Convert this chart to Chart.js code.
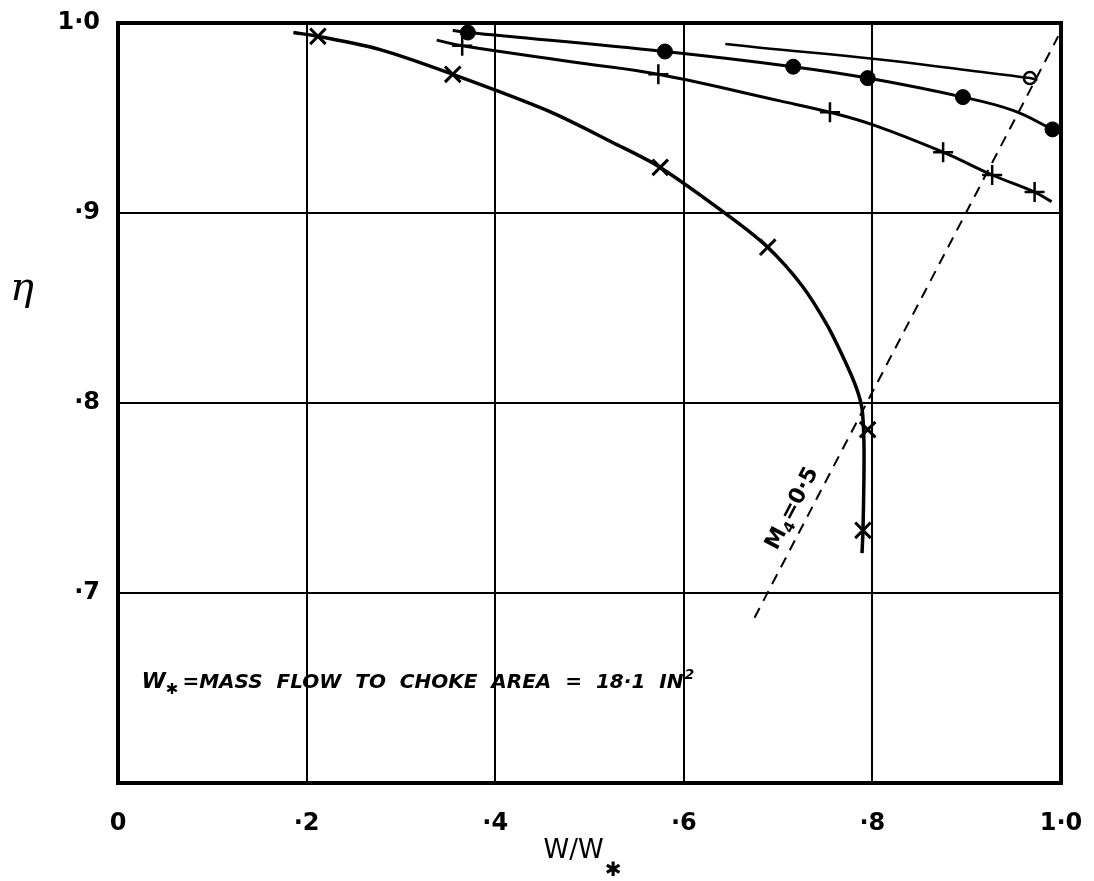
<!DOCTYPE html>
<html>
<head>
<meta charset="utf-8">
<script src="https://cdn.jsdelivr.net/npm/chart.js@4.4.1/dist/chart.umd.min.js"></script>
<style>
  html, body { margin: 0; padding: 0; background: #fff; }
  #wrap { width: 1094px; height: 881px; }
</style>
</head>
<body>
<div id="wrap"><canvas id="etaChart" width="1094" height="881"></canvas></div>
<script>
// Ticks
const xTickLabels = ['0', '·2', '·4', '·6', '·8', '1·0'];
const yTickLabels = ['', '·7', '·8', '·9', '1·0'];

// Curve 1 (x markers)
const c1LineX = [0.186, 0.212, 0.278, 0.355, 0.455, 0.525, 0.575, 0.649, 0.689, 0.725, 0.752, 0.771, 0.783, 0.789, 0.791, 0.791, 0.790, 0.789];
const c1LineY = [0.995, 0.993, 0.986, 0.973, 0.954, 0.937, 0.924, 0.898, 0.882, 0.862, 0.841, 0.822, 0.808, 0.797, 0.780, 0.760, 0.733, 0.721];
const c1MarkX = [0.212, 0.355, 0.575, 0.689, 0.795, 0.790];
const c1MarkY = [0.993, 0.973, 0.924, 0.882, 0.786, 0.733];

// Curve 2 (+ markers)
const c2LineX = [0.338, 0.365, 0.490, 0.573, 0.702, 0.755, 0.803, 0.875, 0.927, 0.972, 0.990];
const c2LineY = [0.991, 0.988, 0.979, 0.973, 0.959, 0.953, 0.946, 0.932, 0.920, 0.911, 0.906];
const c2MarkX = [0.365, 0.573, 0.755, 0.875, 0.927, 0.972];
const c2MarkY = [0.988, 0.973, 0.953, 0.932, 0.920, 0.911];

// Curve 3 (filled circles)
const c3LineX = [0.355, 0.371, 0.580, 0.716, 0.795, 0.896, 0.949, 0.991];
const c3LineY = [0.996, 0.995, 0.985, 0.977, 0.971, 0.961, 0.954, 0.944];
const c3MarkX = [0.371, 0.580, 0.716, 0.795, 0.896, 0.991];
const c3MarkY = [0.995, 0.985, 0.977, 0.971, 0.961, 0.944];

// Curve 4 (open circle)
const c4LineX = [0.644, 0.681, 0.803, 0.903, 0.967, 0.975];
const c4LineY = [0.989, 0.987, 0.981, 0.975, 0.971, 0.970];
const c4MarkX = [0.967];
const c4MarkY = [0.971];

// M4 = 0.5 line
const machX = [0.675, 0.997];
const machY = [0.687, 0.993];

function pts(xs, ys) {
    return xs.map((x, i) => ({ x: x, y: ys[i] }));
}

const FONT = "'DejaVu Sans', sans-serif";

function lineSet(xs, ys, width, tension) {
    return {
        data: pts(xs, ys),
        showLine: true,
        borderColor: '#000',
        borderWidth: width,
        pointRadius: 0,
        tension: tension,
        fill: false
    };
}

function markSet(xs, ys, style, radius, width, bg) {
    return {
        data: pts(xs, ys),
        showLine: false,
        pointStyle: style,
        pointRadius: radius,
        pointBorderWidth: width,
        pointBorderColor: '#000',
        pointBackgroundColor: bg
    };
}

// Marco y textos
const framePlugin = {
    id: 'frame',
    beforeDatasetsDraw(chart) {
        const a = chart.chartArea;
        const ctx = chart.ctx;
        ctx.save();
        ctx.strokeStyle = '#000';
        ctx.lineWidth = 4;
        ctx.strokeRect(a.left, a.top, a.right - a.left, a.bottom - a.top);
        ctx.restore();
    },
    afterDraw(chart) {
        const ctx = chart.ctx;
        const xs = chart.scales.x;
        const ys = chart.scales.y;
        ctx.save();
        ctx.fillStyle = '#000';
        ctx.textBaseline = 'alphabetic';

        // eta
        ctx.font = "italic 40px 'DejaVu Serif', serif";
        ctx.textAlign = 'center';
        ctx.fillText('η', 22, 300);

        // W/W*
        ctx.font = '26px ' + FONT;
        ctx.textAlign = 'left';
        const tx = (chart.chartArea.left + chart.chartArea.right) / 2 - 46;
        ctx.fillText('W/W', tx, 858);
        const ww = ctx.measureText('W/W').width;
        ctx.font = 'bold 20px ' + FONT;
        ctx.fillText('✱', tx + ww + 1, 876);

        // Note
        let nx = xs.getPixelForValue(0.025);
        const ny = ys.getPixelForValue(0.650);
        ctx.font = 'italic bold 22px ' + FONT;
        ctx.fillText('W', nx, ny);
        nx += ctx.measureText('W').width;
        ctx.font = 'bold 15px ' + FONT;
        ctx.fillText('✱', nx, ny + 6);
        nx += ctx.measureText('✱').width + 4;
        ctx.font = 'italic bold 20px ' + FONT;
        const note = '=MASS  FLOW  TO  CHOKE  AREA  =  18·1  IN';
        ctx.fillText(note, nx, ny);
        nx += ctx.measureText(note).width + 1;
        ctx.font = 'italic bold 14px ' + FONT;
        ctx.fillText('2', nx, ny - 9);

        // M4 = 0.5 along the dashed line
        const p1x = xs.getPixelForValue(machX[0]);
        const p1y = ys.getPixelForValue(machY[0]);
        const p2x = xs.getPixelForValue(machX[1]);
        const p2y = ys.getPixelForValue(machY[1]);
        const ang = Math.atan2(p2y - p1y, p2x - p1x);
        ctx.translate(xs.getPixelForValue(0.713), ys.getPixelForValue(0.745));
        ctx.rotate(ang);
        ctx.font = 'bold 22px ' + FONT;
        const partM = 'M';
        const partEq = '=0·5';
        const wM = ctx.measureText(partM).width;
        ctx.font = 'bold 15px ' + FONT;
        const w4 = ctx.measureText('4').width;
        ctx.font = 'bold 22px ' + FONT;
        const wEq = ctx.measureText(partEq).width;
        let sx = -(wM + w4 + wEq) / 2;
        ctx.fillText(partM, sx, 8);
        sx += wM;
        ctx.font = 'bold 15px ' + FONT;
        ctx.fillText('4', sx, 13);
        sx += w4;
        ctx.font = 'bold 22px ' + FONT;
        ctx.fillText(partEq, sx, 8);
        ctx.restore();
    }
};

new Chart(document.getElementById('etaChart'), {
    type: 'scatter',
    data: {
        datasets: [
            lineSet(c1LineX, c1LineY, 3.5, 0.3),
            lineSet(c2LineX, c2LineY, 3, 0.4),
            lineSet(c3LineX, c3LineY, 3, 0.4),
            lineSet(c4LineX, c4LineY, 2.5, 0.4),
            {
                data: pts(machX, machY),
                showLine: true,
                borderColor: '#000',
                borderWidth: 2,
                borderDash: [11, 8],
                pointRadius: 0,
                tension: 0
            },
            markSet(c1MarkX, c1MarkY, 'crossRot', 11, 3, '#000'),
            markSet(c2MarkX, c2MarkY, 'cross', 10, 2.5, '#000'),
            markSet(c3MarkX, c3MarkY, 'circle', 7.5, 1, '#000'),
            markSet(c4MarkX, c4MarkY, 'circle', 6, 2.5, '#fff')
        ]
    },
    options: {
        responsive: false,
        animation: false,
        layout: { padding: { left: 0, top: 23, right: 33, bottom: 0 } },
        plugins: {
            legend: { display: false },
            tooltip: { enabled: false }
        },
        scales: {
            x: {
                type: 'linear',
                min: 0,
                max: 1,
                afterFit: s => {
                    s.height = 98;
                    s.paddingLeft = 0;
                    s.paddingRight = 0;
                },
                afterBuildTicks: s => {
                    s.ticks = xTickLabels.map((t, i) => ({ value: i * 0.2 }));
                },
                ticks: {
                    callback: (v, i) => xTickLabels[i],
                    color: '#000',
                    padding: 26,
                    maxRotation: 0,
                    font: { family: FONT, size: 24, weight: 'bold' }
                },
                grid: { color: '#000', lineWidth: 2, drawTicks: false },
                border: { display: false }
            },
            y: {
                type: 'linear',
                min: 0.6,
                max: 1.0,
                afterFit: s => {
                    s.width = 118;
                    s.paddingTop = 0;
                    s.paddingBottom = 0;
                },
                afterBuildTicks: s => {
                    s.ticks = yTickLabels.map((t, i) => ({ value: 0.6 + i * 0.1 }));
                },
                ticks: {
                    callback: (v, i) => yTickLabels[i],
                    color: '#000',
                    padding: 18,
                    font: { family: FONT, size: 24, weight: 'bold' }
                },
                grid: { color: '#000', lineWidth: 2, drawTicks: false },
                border: { display: false }
            }
        }
    },
    plugins: [framePlugin]
});
</script>
</body>
</html>
